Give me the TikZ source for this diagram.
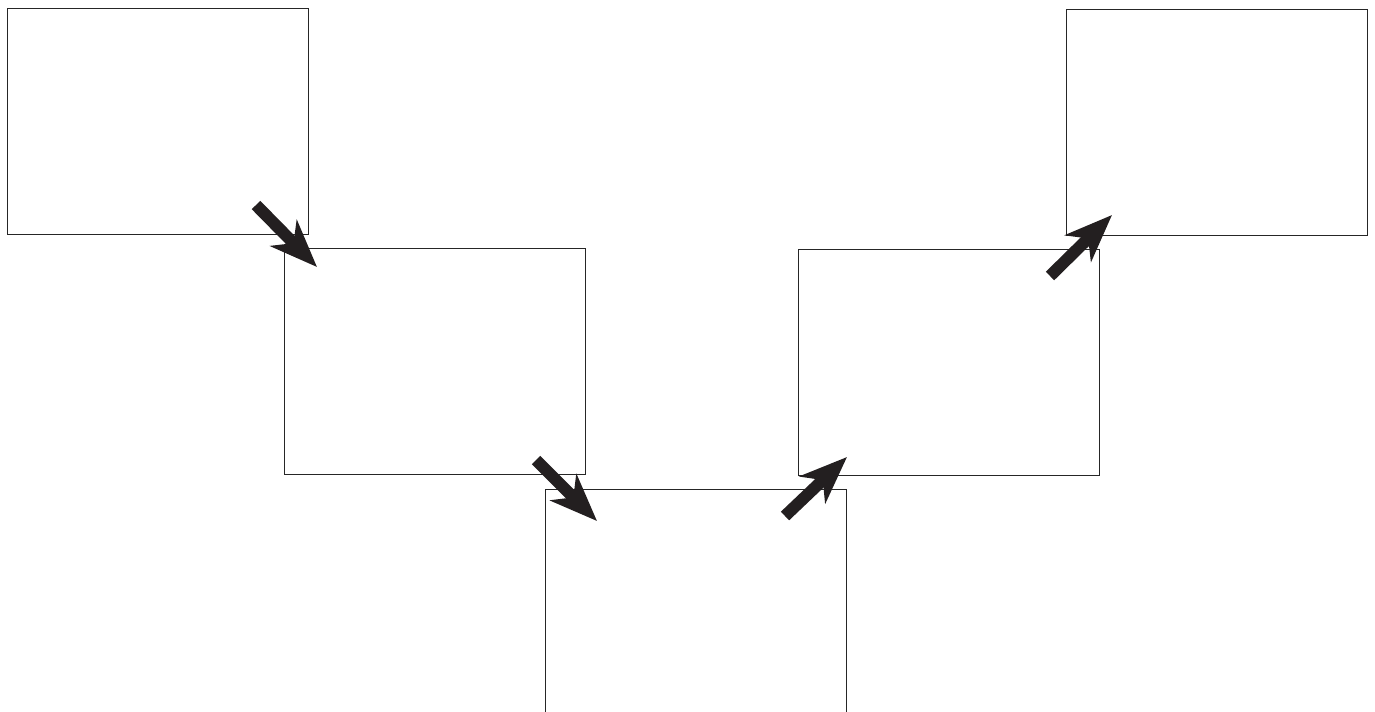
\documentclass[tikz,border=0pt]{standalone}
\usetikzlibrary{arrows.meta}
\definecolor{arrowblack}{HTML}{231F20}
\begin{document}
\begin{tikzpicture}[x=0.02cm, y=-0.02cm,
        panel/.style={rectangle, draw=black!85, line width=0.5pt, minimum width=6.02cm, minimum height=4.52cm, inner sep=0pt},
        bigarrow/.style={-{Stealth[length=27pt, width=21pt, inset=8pt]}, line width=6.8pt, draw=arrowblack}
    ]
        \useasboundingbox (0,0) rectangle (1375,711);
        \clip (0,0) rectangle (1375,711);

        % Panels going down and back up
        \node[panel] (p1) at (157.5, 121) {};
        \node[panel] (p2) at (434.5, 361) {};
        \node[panel] (p3) at (696, 602) {};
        \node[panel] (p4) at (949, 362) {};
        \node[panel] (p5) at (1216.5, 122) {};

        % Arrow ends
        \coordinate (a1s) at (256, 205);
        \coordinate (a1e) at (317, 267);
        \coordinate (a2s) at (536, 460);
        \coordinate (a2e) at (597, 521);
        \coordinate (a3s) at (785, 516);
        \coordinate (a3e) at (847, 457);
        \coordinate (a4s) at (1050, 276);
        \coordinate (a4e) at (1112, 215);

        % Arrows
        \foreach \i in {1,2,3,4} {
            \draw[bigarrow] (a\i s) -- (a\i e);
        }
    \end{tikzpicture}
\end{document}
